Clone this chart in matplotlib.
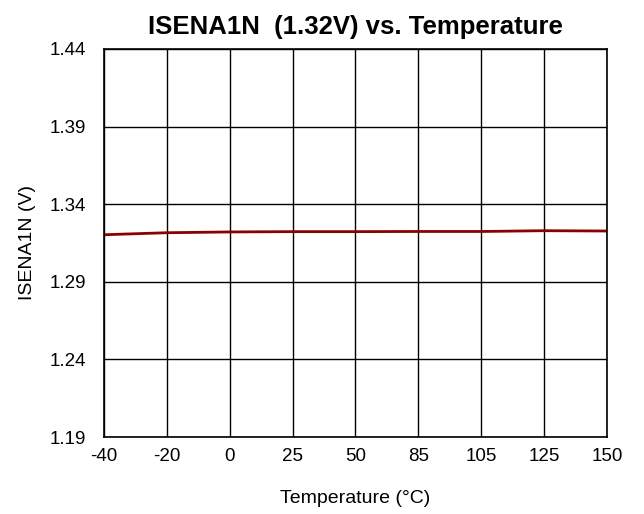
import matplotlib
matplotlib.use("Agg")
import matplotlib.pyplot as plt

plt.rcParams['font.family'] = ['Liberation Sans', 'DejaVu Sans']

temps = ["-40", "-20", "0", "25", "50", "85", "105", "125", "150"]
values = [1.3203, 1.3216, 1.3221, 1.3223, 1.3223, 1.3224, 1.3224, 1.3229, 1.3227]
yticks = [1.19, 1.24, 1.29, 1.34, 1.39, 1.44]

fig = plt.figure(figsize=(6.44, 5.14), dpi=100)
ax = fig.add_axes([0.1615, 0.1498, 0.781, 0.755])
x = list(range(len(temps)))
ax.plot(x, values, color='#8B0000', lw=2)
ax.set_xlim(0, len(temps) - 1)
ax.set_ylim(1.19, 1.44)
ax.set_xticks(x)
ax.set_xticklabels(temps)
ax.set_yticks(yticks)
ax.set_yticklabels([f"{v:.2f}" for v in yticks])
ax.grid(True, color='black', lw=1)
ax.tick_params(length=0, labelsize=13.5)
ax.tick_params(axis='y', pad=13)
ax.tick_params(axis='x', pad=8)
for s in ax.spines.values():
    s.set_linewidth(1.2)
ax.set_xlabel("Temperature (°C)", fontsize=14, labelpad=18)
ax.set_ylabel("ISENA1N (V)", fontsize=14, labelpad=10)
ax.set_title("ISENA1N  (1.32V) vs. Temperature", fontsize=18.5, fontweight='bold', pad=11)
fig.savefig("out.png", dpi=100)
